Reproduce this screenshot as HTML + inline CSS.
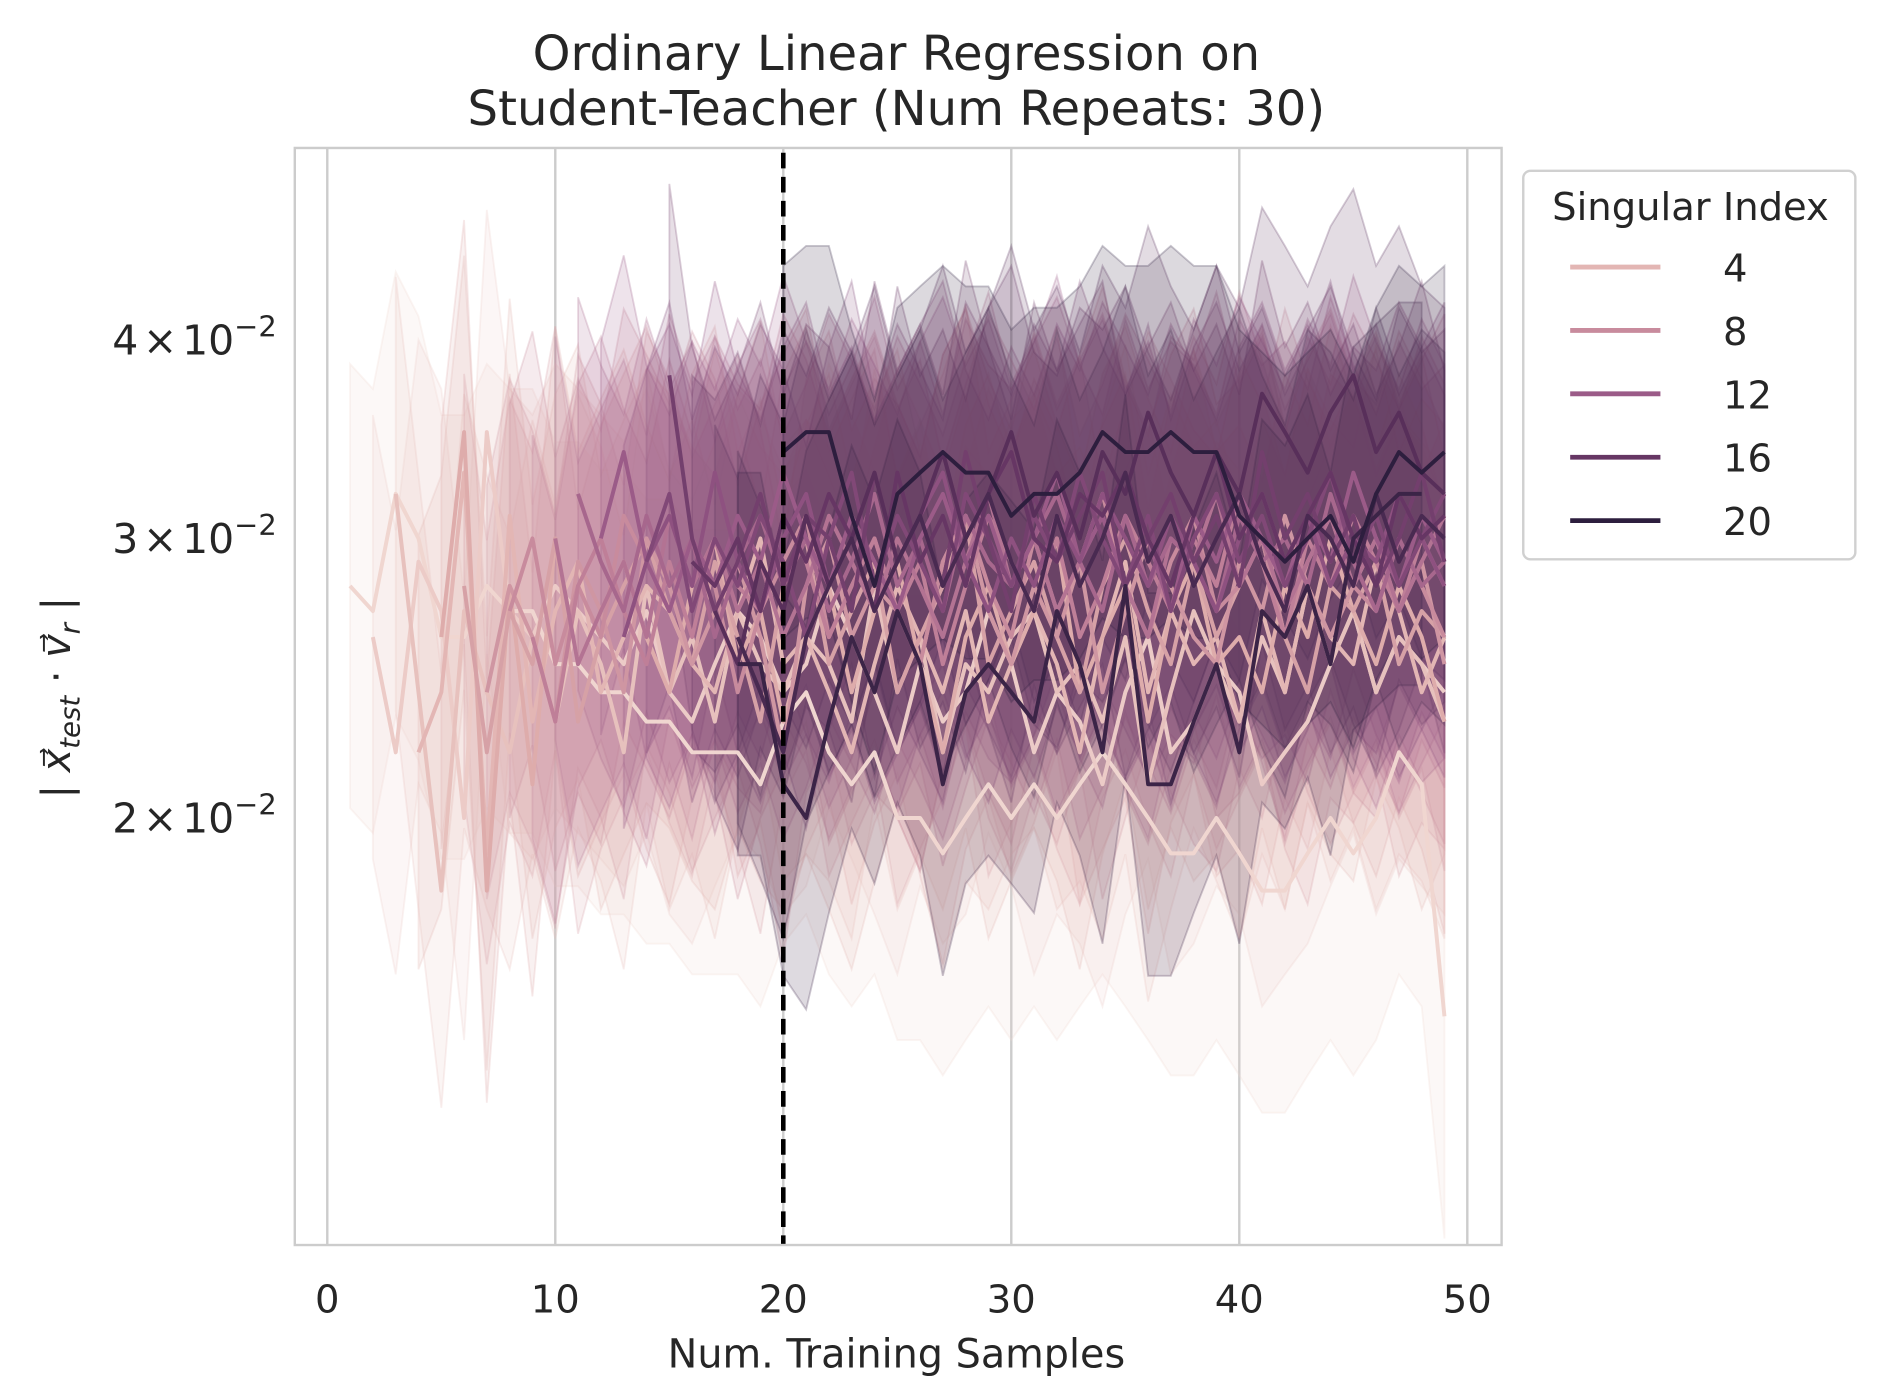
<!DOCTYPE html>
<html><head><meta charset="utf-8">
<style>
html,body{margin:0;padding:0;background:#fff;}
svg{display:block;font-family:"DejaVu Sans","Liberation Sans",sans-serif;}
</style></head>
<body>
<svg id="chart" width="1877" height="1399" viewBox="0 0 1560 1163" preserveAspectRatio="none" xmlns="http://www.w3.org/2000/svg">
<rect width="1560" height="1163" fill="#fff"/>
<text x="745" y="58" text-anchor="middle" font-size="40" fill="#262626">Ordinary Linear Regression on</text>
<text x="745" y="104" text-anchor="middle" font-size="40" fill="#262626">Student-Teacher (Num Repeats: 30)</text>
<g id="grid"></g>
<g id="bands"></g>
<g id="lines"></g>
<rect x="245" y="123" width="1003" height="912" fill="none" stroke="#cccccc" stroke-width="2"/>
<g id="axes"></g>
<text x="745" y="1137" text-anchor="middle" font-size="33" fill="#262626">Num. Training Samples</text>
<text transform="translate(58,580) rotate(-90)" text-anchor="middle" font-size="33" fill="#262626">| <tspan font-style="italic">x⃗</tspan><tspan font-style="italic" font-size="23" dy="8">test</tspan><tspan dy="-8"> · </tspan><tspan font-style="italic">v⃗</tspan><tspan font-style="italic" font-size="23" dy="8">r</tspan><tspan dy="-8"> |</tspan></text>
<g id="legend">
<rect x="1266" y="142" width="276" height="323" rx="6" fill="#fff" stroke="#d0d0d0" stroke-width="2"/>
<text x="1405" y="183" text-anchor="middle" font-size="32" fill="#262626">Singular Index</text>
</g>
</svg>
<script>
const xTicks=[0,10,20,30,40,50];
const yTicks=[0.04,0.03,0.02];
const yTickLabels=["4","3","2"];
const thresholdX=20;
const s1=[28,27,32,30,26,26,28,27,27,25,25,24,24,23,23,22,22,22,21,23,24,22,21,22,20,20,19,20,21,20,21,20,21,22,21,20,19,19,20,19,18,18,19,20,19,20,22,21,15];
const s2=[26,22,29,27,20,35,27,26,28,27,26,25,27,24,23,25,27,26,24,25,28,26,24,22,25,23,24,27,25,22,24,23,21,24,26,22,23,25,24,21,22,23,25,27,24,26,25,24];
const s3=[32,24,18,27,24,22,26,23,27,25,22,28,24,26,23,27,25,24,26,25,23,28,24,26,22,25,24,26,27,24,25,23,26,21,24,27,25,23,26,24,28,25,27,24,26,25,23];
const s4=[22,24,33,19,31,23,27,29,24,26,28,27,25,24,27,30,25,26,24,22,25,28,26,24,27,23,25,27,25,22,26,29,24,27,25,26,23,27,24,28,26,25,29,27,24,26];
const s5=[26,35,18,28,21,30,25,27,29,26,24,28,30,25,27,23,26,28,24,27,29,25,22,26,28,25,27,30,24,26,28,23,27,29,25,26,24,28,26,30,27,25,28,26,23];
const s6=[28,22,27,25,30,23,26,28,30,27,25,29,26,23,28,30,25,27,29,24,26,28,31,25,27,29,26,24,28,30,27,25,29,26,28,30,26,24,28,27,29,25,27,26];
const s7=[24,28,26,23,29,27,24,30,28,25,27,29,26,22,28,30,26,28,27,25,29,31,27,25,28,26,29,24,27,30,28,26,25,29,27,31,28,26,28,30,27,29,25];
const s8=[27,30,25,28,26,31,29,27,30,28,24,27,29,31,26,28,30,27,25,29,31,28,26,30,27,29,32,28,26,29,31,27,28,30,26,29,31,28,27,30,28,26];
const s9=[26,23,28,30,27,25,29,26,30,28,27,31,29,26,28,30,27,29,25,28,31,29,27,30,26,28,31,29,27,30,28,32,29,26,30,28,31,29,27,30,28];
const s10=[30,25,27,29,26,31,28,30,27,29,26,28,31,29,27,30,28,26,29,32,28,30,27,29,31,28,26,30,29,32,28,30,27,29,31,28,30,27,29,31];
const s11=[32,29,27,31,28,30,26,29,31,28,30,27,29,32,28,30,27,31,29,28,30,32,29,27,31,28,30,29,27,31,29,30,28,32,29,27,30,28,29];
const s12=[30,34,29,27,30,28,31,29,33,30,28,31,29,27,30,32,29,31,28,30,33,29,31,28,30,27,31,29,32,30,28,31,29,33,30,28,31,29];
const s13=[26,29,31,28,33,29,27,30,32,28,30,27,29,31,33,29,27,30,28,31,29,32,30,28,31,29,27,30,32,29,31,28,30,29,32,30,28];
const s14=[29,32,27,30,28,31,29,26,30,33,28,31,29,27,32,30,28,31,29,33,30,28,31,27,30,32,29,31,28,30,33,29,31,28,30,32];
const s15=[38,30,27,29,32,28,31,30,27,33,29,31,28,34,30,27,32,29,31,33,28,30,32,29,31,28,34,30,32,29,31,28,30,33,29];
const s16=[29,28,30,27,31,29,32,30,27,33,29,31,28,32,34,30,29,32,31,33,30,28,31,34,30,32,29,31,33,30,28,32,30,31];
const s17=[27,25,29,27,31,28,30,33,29,31,34,30,32,35,31,33,30,34,32,36,33,31,34,32,37,35,33,36,38,34,36,33,32];
const s18=[26,24,22,26,28,30,27,29,31,28,30,32,29,27,31,28,30,33,29,31,28,30,32,29,27,31,30,28,32,29,31,30];
const s19=[25,25,21,20,23,26,24,27,25,21,24,25,24,23,27,25,22,28,21,21,23,25,22,27,26,28,25,30,31,32,32];
const s20=[34,35,35,31,28,32,33,34,33,33,31,32,32,33,35,34,34,35,34,34,31,30,29,30,31,29,32,34,33,34];
const seriesValues=[s1,s2,s3,s4,s5,s6,s7,s8,s9,s10,s11,s12,s13,s14,s15,s16,s17,s18,s19,s20];
const seriesStart=[1,2,3,4,5,6,7,8,9,10,11,12,13,14,15,16,17,18,18,20];
const bandSpread=[1.38,1.38,1.37,1.37,1.36,1.36,1.35,1.35,1.34,1.34,1.33,1.33,1.32,1.32,1.32,1.31,1.31,1.31,1.32,1.31];
const legendValues=[4,8,12,16,20];

const NS="http://www.w3.org/2000/svg";
const Y0=123,Y1=1035;
function xs(v){return 272+v*18.95;}
function ys(v){return 680-Math.log10(v/0.02)*1320;}
function mk(tag,attrs,parent){const e=document.createElementNS(NS,tag);for(const k in attrs)e.setAttribute(k,attrs[k]);parent.appendChild(e);return e;}
const stops=[[240,214,208],[223,174,172],[196,132,154],[150,86,134],[99,52,98],[45,30,62]];
function col(t){const p=t*(stops.length-1);const i=Math.min(Math.floor(p),stops.length-2);const f=p-i;const c=stops[i].map((a,k)=>Math.round(a+(stops[i+1][k]-a)*f));return `rgb(${c[0]},${c[1]},${c[2]})`;}
function tFor(r){return (r-1)/19;}

const grid=document.getElementById('grid');
xTicks.forEach(t=>{const l=mk('line',{x1:xs(t),x2:xs(t),y1:Y0,y2:Y1,stroke:'#cccccc','stroke-width':2},grid);

});

const bands=document.getElementById('bands'),lines=document.getElementById('lines');
seriesValues.forEach((vals,si)=>{
 const r=si+1,st=seriesStart[si],c=col(tFor(r)),sp=bandSpread[si];
 const pts=vals.map((v,i)=>[st+i,v/1000]).filter(p=>p[0]<=49);
 const up=pts.map(p=>xs(p[0]).toFixed(1)+','+ys(p[1]*sp).toFixed(1));
 const lo=pts.slice().reverse().map(p=>xs(p[0]).toFixed(1)+','+ys(p[1]/sp).toFixed(1));
 const b=mk('polygon',{points:up.concat(lo).join(' '),fill:c,'fill-opacity':0.17,stroke:c,'stroke-opacity':0.25,'stroke-width':1.5},bands);
 
 
 const l=mk('polyline',{points:pts.map(p=>xs(p[0]).toFixed(1)+','+ys(p[1]).toFixed(1)).join(' '),fill:'none',stroke:c,'stroke-width':3.3,'stroke-linejoin':'round'},lines);
 
 
});
const dl=mk('line',{x1:xs(thresholdX),x2:xs(thresholdX),y1:Y0+4,y2:Y1,stroke:'#000','stroke-width':3.8,'stroke-dasharray':'13,7'},lines);



const axes=document.getElementById('axes');
xTicks.forEach(t=>{const e=mk('text',{x:xs(t),y:1091,'text-anchor':'middle','font-size':32,fill:'#262626'},axes);
 e.textContent=t;
 
 });
yTicks.forEach((t,i)=>{const e=mk('text',{x:230,y:ys(t)+12,'text-anchor':'end','font-size':34,fill:'#262626'},axes);
 e.innerHTML=yTickLabels[i]+'<tspan dx="4">×</tspan><tspan dx="4">10</tspan><tspan dy="-15" font-size="24">−2</tspan>';
 
 });
const lg=document.getElementById('legend');
legendValues.forEach((v,i)=>{const y=222+i*52.7;
 const l=mk('line',{x1:1305,x2:1380,y1:y,y2:y,stroke:col(tFor(v)),'stroke-width':4},lg);
 
 
 const e=mk('text',{x:1432,y:y+12,'font-size':32,fill:'#262626'},lg);
 e.textContent=v;
 
 });
</script>
</body></html>
